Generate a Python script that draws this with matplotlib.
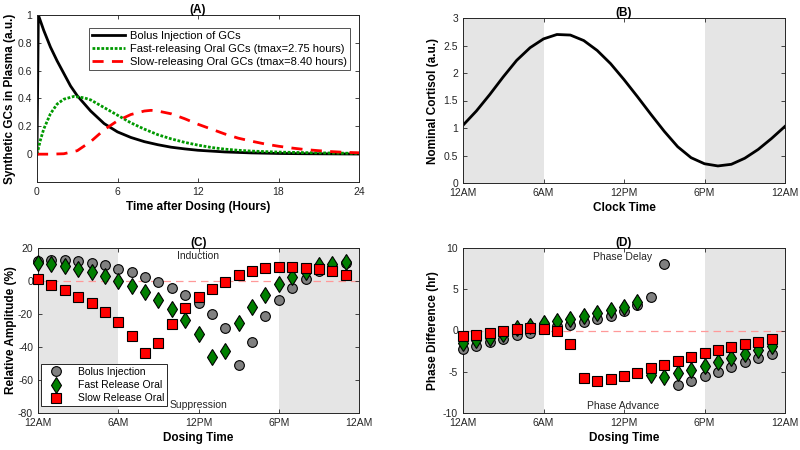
import matplotlib.pyplot as plt

plt.rcParams['font.family'] = ['Liberation Sans', 'DejaVu Sans']
plt.rcParams['axes.unicode_minus'] = False

# (A) GC profiles after a single dose
t_bolus = [0, 0.1, 0.5, 1, 1.5, 2, 2.5, 3, 4, 5, 6, 7, 8, 9, 10, 11, 12, 14, 16, 18, 20, 22, 24]
bolus_pk = [0, 1.0, 0.89, 0.77, 0.67, 0.58, 0.49, 0.42, 0.31, 0.22, 0.16, 0.12, 0.09, 0.068, 0.05,
            0.038, 0.028, 0.016, 0.009, 0.005, 0.003, 0.002, 0.001]
t_fast = [0, 0.25, 0.5, 1, 1.5, 2, 2.75, 3.5, 4, 5, 6, 7, 8, 9, 10, 11, 12, 13, 14, 15, 16, 18, 20, 22, 24]
fast_pk = [0, 0.1, 0.18, 0.29, 0.36, 0.395, 0.415, 0.405, 0.39, 0.335, 0.28, 0.225, 0.18, 0.14, 0.11,
           0.085, 0.065, 0.048, 0.036, 0.028, 0.022, 0.015, 0.011, 0.008, 0.006]
t_slow = [0, 1, 2, 3, 4, 5, 6, 7, 8, 8.5, 9, 10, 11, 12, 13, 14, 15, 16, 17, 18, 19, 20, 21, 22, 23, 24]
slow_pk = [0, 0, 0.003, 0.025, 0.09, 0.175, 0.24, 0.285, 0.31, 0.315, 0.31, 0.29, 0.255, 0.215, 0.18,
           0.145, 0.115, 0.093, 0.073, 0.057, 0.044, 0.033, 0.025, 0.018, 0.013, 0.01]

# (B) nominal cortisol over the day
t_clock = list(range(25))
cortisol = [1.05, 1.31, 1.61, 1.93, 2.23, 2.46, 2.62, 2.70, 2.69, 2.59, 2.41, 2.17, 1.88, 1.57, 1.25,
            0.94, 0.66, 0.46, 0.35, 0.31, 0.34, 0.45, 0.61, 0.81, 1.03]

# (C) and (D) per dosing hour
dose_hours = list(range(24))
amp_bolus = [12.3, 12.9, 12.9, 12.2, 11.2, 9.7, 7.5, 5.3, 2.6, -0.4, -4.0, -8.2, -13.5, -20.0, -28.3,
             -51.1, -37.0, -21.5, -11.8, -4.5, 1.0, 5.8, 8.5, 11.0]
amp_fast = [10.8, 10.3, 9.3, 7.3, 5.3, 3.0, 0.1, -3.2, -6.9, -11.5, -16.8, -23.6, -31.9, -46.0, -42.5,
            -25.6, -15.6, -8.4, -1.8, 2.2, 5.5, 9.5, 10.6, 11.5]
amp_slow = [1.2, -2.2, -5.5, -9.4, -13.5, -18.9, -25.1, -33.1, -43.4, -37.7, -25.8, -16.6, -9.7, -4.7,
            -0.4, 3.4, 5.9, 7.6, 8.3, 8.3, 7.9, 7.0, 5.8, 3.8]
ph_bolus = [-2.3, -1.9, -1.4, -1.0, -0.6, -0.3, 0.2, 0.5, 0.7, 1.0, 1.4, 1.8, 2.4, 3.1, 4.1, 8.1,
            -6.6, -6.1, -5.55, -5.0, -4.45, -3.85, -3.35, -2.85]
ph_fast = [-1.5, -1.2, -0.9, -0.4, 0.3, 0.6, 0.9, 1.1, 1.4, 1.75, 2.1, 2.5, 2.9, 3.4, -5.4, -5.6,
           -5.1, -4.75, -4.3, -3.85, -3.35, -2.8, -2.35, -1.9]
ph_slow = [-0.7, -0.5, -0.3, -0.1, 0.2, 0.3, 0.2, -0.1, -1.65, -5.8, -6.15, -5.9, -5.5, -5.1, -4.6,
           -4.15, -3.65, -3.25, -2.75, -2.4, -2.05, -1.6, -1.35, -1.0]

clock_ticks = [0, 6, 12, 18, 24]
clock_labels = ['12AM', '6AM', '12PM', '6PM', '12AM']

dark = '#262626'
shade = '#e5e5e5'
fs_tick = 7.5
fs_lab = 8.5

fig = plt.figure(figsize=(8, 4.5), dpi=100)
axA = fig.add_axes([37/800, 1-182/450, 322/800, 167/450])
axB = fig.add_axes([463/800, 1-183/450, 322/800, 165/450])
axC = fig.add_axes([38/800, 1-413/450, 321/800, 165/450])
axD = fig.add_axes([463/800, 1-413/450, 322/800, 165/450])


def style(ax):
    for s in ax.spines.values():
        s.set_color(dark)
        s.set_linewidth(0.7)
    ax.tick_params(direction='in', length=3, width=0.6, colors=dark, labelsize=fs_tick,
                   top=True, right=True)


# ---- (A)
axA.plot(t_bolus, bolus_pk, color='black', lw=2, label='Bolus Injection of GCs')
axA.plot(t_fast, fast_pk, color='#009900', lw=2, ls=(0, (1, 0.6)),
         label='Fast-releasing Oral GCs (tmax=2.75 hours)')
axA.plot(t_slow, slow_pk, color='red', lw=2, ls=(0, (4, 3)),
         label='Slow-releasing Oral GCs (tmax=8.40 hours)')
axA.set_xlim(0, 24)
axA.set_ylim(-0.2, 1)
axA.set_xticks([0, 6, 12, 18, 24])
axA.set_yticks([0, 0.2, 0.4, 0.6, 0.8, 1])
axA.set_yticklabels(['0', '0.2', '0.4', '0.6', '0.8', '1'])
style(axA)
axA.set_title('(A)', fontsize=fs_lab, fontweight='bold', pad=1.5)
axA.set_xlabel('Time after Dosing (Hours)', fontsize=fs_lab, fontweight='bold', labelpad=3)
axA.set_ylabel('Synthetic GCs in Plasma (a.u.)', fontsize=fs_lab, fontweight='bold', labelpad=1)
legA = axA.legend(loc='upper right', bbox_to_anchor=(0.972, 0.922), borderaxespad=0,
                  fontsize=8, frameon=True, fancybox=False, edgecolor=dark,
                  handlelength=3.0, handletextpad=0.4, borderpad=0.3, labelspacing=0.25)
legA.get_frame().set_linewidth(0.7)

# ---- (B)
axB.axvspan(0, 6, color=shade, lw=0)
axB.axvspan(18, 24, color=shade, lw=0)
axB.plot(t_clock, cortisol, color='black', lw=2)
axB.set_xlim(0, 24)
axB.set_ylim(0, 3)
axB.set_yticks([0, 0.5, 1, 1.5, 2, 2.5, 3])
axB.set_yticklabels(['0', '0.5', '1', '1.5', '2', '2.5', '3'])
axB.set_xticks(clock_ticks)
axB.set_xticklabels(clock_labels)
style(axB)
axB.set_title('(B)', fontsize=fs_lab, fontweight='bold', pad=1.5)
axB.set_xlabel('Clock Time', fontsize=fs_lab, fontweight='bold', labelpad=3)
axB.set_ylabel('Nominal Cortisol (a.u.)', fontsize=fs_lab, fontweight='bold', labelpad=3)

# ---- (C) and (D)
mk = dict(ls='none', markeredgecolor='black', markeredgewidth=0.8, clip_on=False)
for ax, yb, yf, ys in [(axC, amp_bolus, amp_fast, amp_slow), (axD, ph_bolus, ph_fast, ph_slow)]:
    ax.axvspan(0, 6, color=shade, lw=0, zorder=0)
    ax.axvspan(18, 24, color=shade, lw=0, zorder=0)
    ax.axhline(0, color='#ff9999', lw=0.9, ls=(0, (6, 4)), zorder=1)
    ax.plot(dose_hours, yb, marker='o', ms=7, markerfacecolor='#808080', label='Bolus Injection', zorder=3, **mk)
    ax.plot(dose_hours, yf, marker='d', ms=8.5, markerfacecolor='#007f00', label='Fast Release Oral', zorder=4, **mk)
    ax.plot(dose_hours, ys, marker='s', ms=6.5, markerfacecolor='#ff0000', label='Slow Release Oral', zorder=5, **mk)
    ax.set_xlim(0, 24)
    ax.set_xticks(clock_ticks)
    ax.set_xticklabels(clock_labels)
    style(ax)
    ax.set_xlabel('Dosing Time', fontsize=fs_lab, fontweight='bold', labelpad=3)

axC.set_ylim(-80, 20)
axC.set_yticks([-80, -60, -40, -20, 0, 20])
axC.set_title('(C)', fontsize=fs_lab, fontweight='bold', pad=1.5)
axC.set_ylabel('Relative Amplitude (%)', fontsize=fs_lab, fontweight='bold', labelpad=1)
axC.text(12, 15.2, 'Induction', ha='center', va='center', fontsize=fs_tick, color=dark)
axC.text(12, -75.4, 'Suppression', ha='center', va='center', fontsize=fs_tick, color=dark)
legC = axC.legend(loc='lower left', bbox_to_anchor=(0.01, 0.04), borderaxespad=0,
                  fontsize=fs_tick, frameon=True, fancybox=False, edgecolor=dark, framealpha=1,
                  handlelength=2.2, handletextpad=1.0, borderpad=0.3, labelspacing=0.3)
legC.get_frame().set_linewidth(0.7)

axD.set_ylim(-10, 10)
axD.set_yticks([-10, -5, 0, 5, 10])
axD.set_title('(D)', fontsize=fs_lab, fontweight='bold', pad=1.5)
axD.set_ylabel('Phase Difference (hr)', fontsize=fs_lab, fontweight='bold', labelpad=3)
axD.text(11.9, 8.9, 'Phase Delay', ha='center', va='center', fontsize=fs_tick, color=dark)
axD.text(11.9, -9.1, 'Phase Advance', ha='center', va='center', fontsize=fs_tick, color=dark)

plt.savefig('out.png', dpi=100)
